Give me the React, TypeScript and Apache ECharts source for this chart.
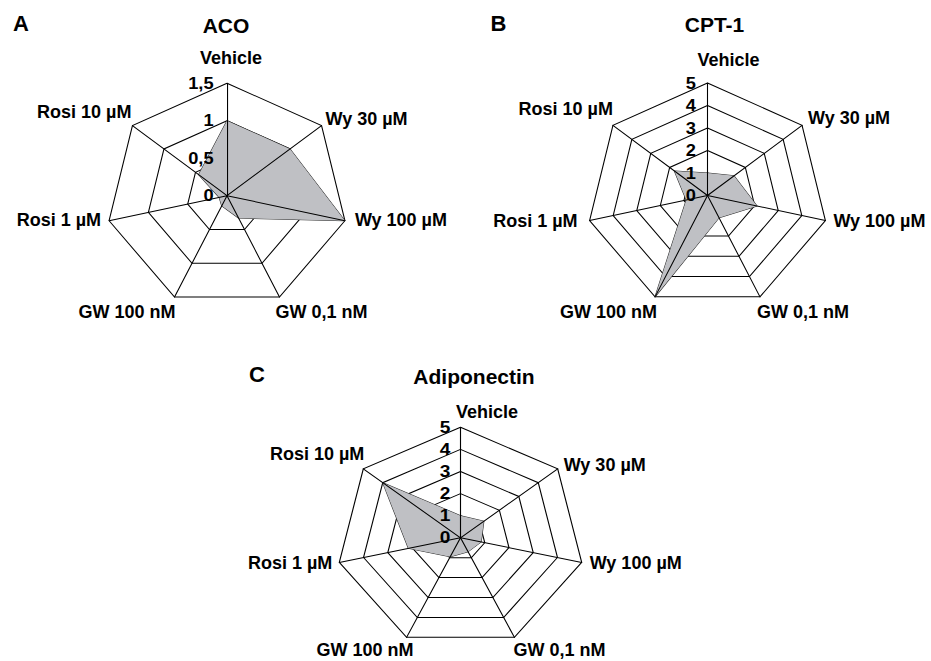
import React, { useEffect, useRef } from "react";
import * as echarts from "echarts";

const W = 931;
const H = 661;
const FONT = "'Liberation Sans', Arial, Helvetica, sans-serif";

// ---- data (clockwise order, starting at the top) ----
const categories = ["Vehicle", "Wy 30 µM", "Wy 100 µM", "GW 0,1 nM", "GW 100 nM", "Rosi 1 µM", "Rosi 10 µM"];
const acoValues = [1.0, 1.0, 1.5, 0.33, 0.15, 0.1, 0.45];
const cpt1Values = [1.0, 1.4, 2.1, 1.1, 5.0, 0.9, 1.75];
const adiponectinValues = [1.0, 1.2, 0.85, 0.7, 0.95, 2.15, 4.0];
const acoAxis = { max: 1.5, splitNumber: 3 };
const cpt1Axis = { max: 5, splitNumber: 5 };
const adiponectinAxis = { max: 5, splitNumber: 5 };

// ECharts lays radar indicators out counter-clockwise; the reference runs clockwise.
const toCcw = <T,>(arr: T[]): T[] => [arr[0], ...arr.slice(1).reverse()];

// ---- layout ----
type Panel = {
  letter: string;
  title: string;
  values: number[];
  axis: { max: number; splitNumber: number };
  cx: number;
  cy: number;
  r: number;
  sx: number;
  titleX: number;
  titleY: number;
  letterX: number;
  letterY: number;
  labelMargin: number;
  nameOffsets: [number, number, string][];
};

const panels: Panel[] = [
  {
    letter: "A", title: "ACO", values: acoValues, axis: acoAxis,
    cx: 227, cy: 195.7, r: 112.5, sx: 1.075,
    titleX: 226, titleY: 25, letterX: 13, letterY: 23, labelMargin: 12.5,
    nameOffsets: [[4, -25, "center"], [4, -6.5, "left"], [10, -1, "left"], [-4, 15, "left"], [1, 15, "right"], [-8, -1, "right"], [-1, -14, "right"]],
  },
  {
    letter: "B", title: "CPT-1", values: cpt1Values, axis: cpt1Axis,
    cx: 707.5, cy: 195.5, r: 112.5, sx: 1.075,
    titleX: 714.5, titleY: 24, letterX: 490.5, letterY: 23.5, labelMargin: 10.7,
    nameOffsets: [[21, -23, "center"], [6, -7, "left"], [8, 0, "left"], [-3, 15, "left"], [2, 15, "right"], [-12, 0, "right"], [0, -16, "right"]],
  },
  {
    letter: "C", title: "Adiponectin", values: adiponectinValues, axis: adiponectinAxis,
    cx: 460.5, cy: 537.8, r: 110.5, sx: 1.125,
    titleX: 474, titleY: 376.5, letterX: 249, letterY: 374, labelMargin: 8.9,
    nameOffsets: [[26.5, -15.6, "center"], [6, -4, "left"], [8, 1, "left"], [-1, 13, "left"], [7, 13, "right"], [-7, 1, "right"], [1, -15, "right"]],
  },
];

const STEP = 360 / categories.length;

// clockwise vertex of the (horizontally stretched) outer ring
function vertex(p: Panel, i: number): [number, number] {
  const a = ((90 - i * STEP) * Math.PI) / 180;
  return [p.cx + p.sx * p.r * Math.cos(a), p.cy - p.r * Math.sin(a)];
}

function radarOption(p: Panel) {
  const fmt = (v: number) => String(v).replace(".", ",");
  const names = toCcw(categories);
  return {
    animation: false,
    radar: [
      {
        center: [p.cx, p.cy],
        radius: p.r,
        startAngle: 90,
        shape: "polygon",
        splitNumber: p.axis.splitNumber,
        indicator: names.map((n) => ({ name: n, min: 0, max: p.axis.max })),
        axisName: { show: false },
        axisLine: { show: false },
        axisTick: { show: false },
        axisLabel: { show: false },
        splitLine: { show: true, lineStyle: { color: "#000", width: 1 } },
        splitArea: { show: false },
        z: 0,
      },
      {
        center: [p.cx, p.cy],
        radius: p.r,
        startAngle: 90,
        shape: "polygon",
        splitNumber: p.axis.splitNumber,
        indicator: names.map((n, i) => ({
          name: n,
          min: 0,
          max: p.axis.max,
          ...(i === 0 ? { axisLabel: { show: true } } : {}),
        })),
        axisName: { show: false },
        axisLine: { show: true, lineStyle: { color: "#000", width: 1 } },
        axisTick: { show: false },
        axisLabel: {
          show: false,
          color: "#000",
          fontWeight: "bold",
          fontSize: 17,
          fontFamily: FONT,
          margin: p.labelMargin,
          formatter: fmt,
        },
        splitLine: { show: false },
        splitArea: { show: false },
        z: 10,
      },
    ],
    series: [
      {
        type: "radar",
        radarIndex: 0,
        symbol: "none",
        z: 2,
        lineStyle: { color: "#2a2a2a", width: 1 },
        areaStyle: { color: "#bfc0c4", opacity: 1 },
        data: [{ value: toCcw(p.values), name: p.title }],
      },
    ],
  };
}

function textOption() {
  const elements: any[] = [];
  panels.forEach((p) => {
    elements.push({
      type: "text",
      x: p.letterX,
      y: p.letterY,
      style: { text: p.letter, font: `bold 22px ${FONT}`, fill: "#000", align: "left", verticalAlign: "middle" },
    });
    elements.push({
      type: "text",
      x: p.titleX,
      y: p.titleY,
      style: { text: p.title, font: `bold 21px ${FONT}`, fill: "#000", align: "center", verticalAlign: "middle" },
    });
    categories.forEach((name, i) => {
      const [vx, vy] = vertex(p, i);
      const [dx, dy, align] = p.nameOffsets[i];
      elements.push({
        type: "text",
        x: vx + dx,
        y: vy + dy,
        style: { text: name, font: `bold 18px ${FONT}`, fill: "#000", align, verticalAlign: "middle" },
      });
    });
  });
  return { animation: false, graphic: { elements } };
}

export default function App() {
  const refs = [useRef<HTMLDivElement>(null), useRef<HTMLDivElement>(null), useRef<HTMLDivElement>(null)];
  const textRef = useRef<HTMLDivElement>(null);

  useEffect(() => {
    const charts: echarts.ECharts[] = [];
    panels.forEach((p, k) => {
      const el = refs[k].current;
      if (!el) return;
      const c = echarts.init(el, undefined, { renderer: "svg", width: W, height: H });
      c.setOption(radarOption(p) as any);
      charts.push(c);
    });
    if (textRef.current) {
      const t = echarts.init(textRef.current, undefined, { renderer: "svg", width: W, height: H });
      t.setOption(textOption() as any);
      charts.push(t);
    }
    return () => charts.forEach((c) => c.dispose());
  }, []);

  return (
    <div style={{ position: "fixed", left: 0, top: 0, width: W, height: H, overflow: "hidden", background: "#fff" }}>
      {panels.map((p, k) => (
        <div
          key={p.letter}
          ref={refs[k]}
          style={{
            position: "absolute",
            left: 0,
            top: 0,
            width: W,
            height: H,
            transform: `scaleX(${p.sx})`,
            transformOrigin: `${p.cx}px ${p.cy}px`,
          }}
        />
      ))}
      <div ref={textRef} style={{ position: "absolute", left: 0, top: 0, width: W, height: H }} />
    </div>
  );
}
